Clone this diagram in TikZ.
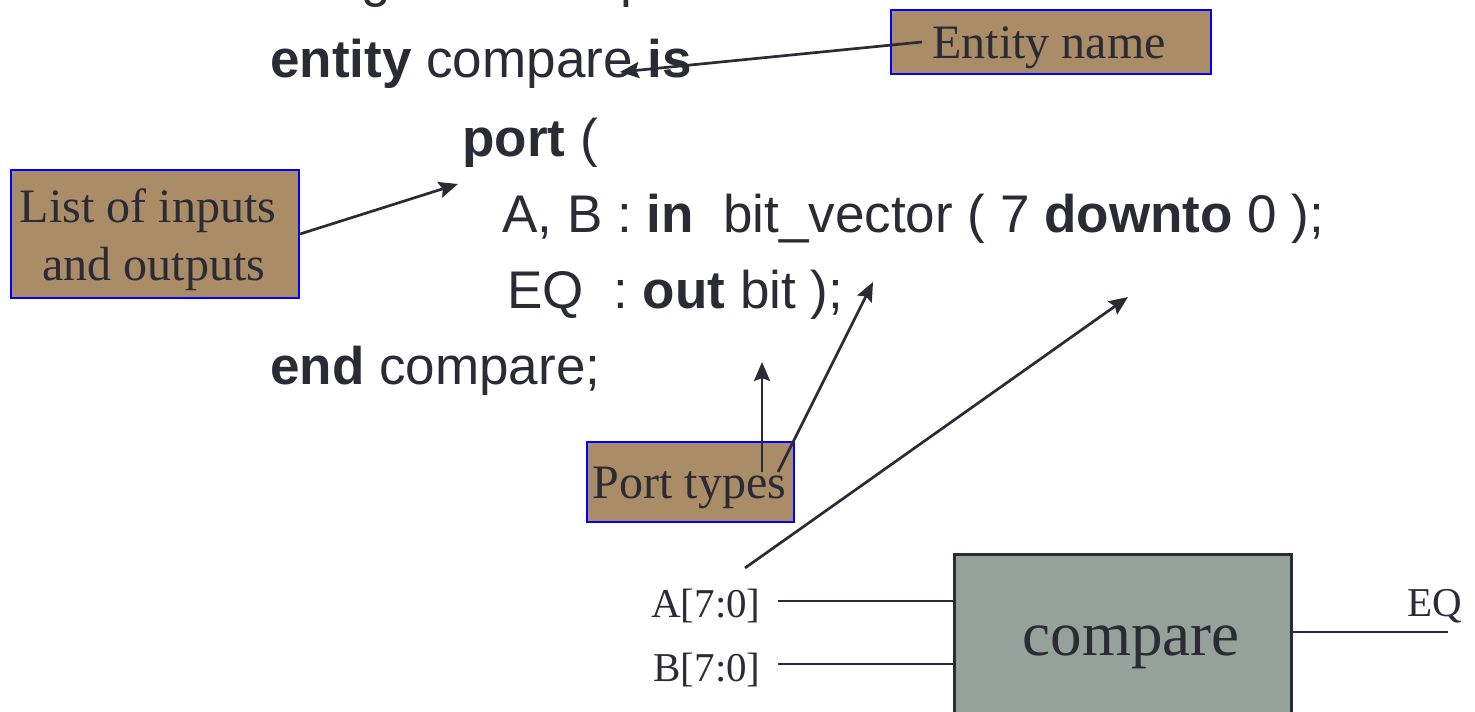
\documentclass[tikz,border=0pt]{standalone}
\usepackage{fontspec}
\setmainfont{Liberation Serif}
\newfontfamily\codefont{Liberation Sans}
\usetikzlibrary{arrows.meta}
\definecolor{ink}{HTML}{2B2B36}
\definecolor{notefill}{HTML}{AA8C66}
\definecolor{noteedge}{HTML}{0000FF}
\definecolor{blockfill}{HTML}{94A299}
\begin{document}
\begin{tikzpicture}[x=0.5pt, y=-0.5pt,
  code/.style={anchor=base west, inner sep=0pt, text=ink, font=\codefont\fontsize{26.5}{32}\selectfont},
  note/.style={draw=noteedge, line width=1pt, fill=notefill, inner sep=0pt, anchor=north west},
  notetext/.style={text=ink, inner sep=0pt, font=\fontsize{24}{29}\selectfont, align=center},
  pointer/.style={draw=ink, line width=1.35pt, -{Stealth[length=9.5pt, width=8pt, inset=1.5pt]}},
  wire/.style={draw=ink, line width=1.35pt},
  pin/.style={text=ink, inner sep=0pt, font=\fontsize{20.5}{24}\selectfont},
  block/.style={draw=ink, line width=1.35pt, fill=blockfill, inner sep=0pt, anchor=north west}]

\useasboundingbox (0,0) rectangle (1475,711);

% VHDL source
\node[code] (hdr) at (270,-3) {-{}- eight bit comparator};
\node[code] (ent) at (270,78) {\textbf{entity} compare \textbf{is}};
\node[code] (prt) at (462,157) {\textbf{port} (};
\node[code] (ab)  at (502,232) {A, B : \textbf{in}\ \ bit\_vector ( 7 \textbf{downto} 0 );};
\node[code] (eq)  at (507,308) {EQ\ \ : \textbf{out} bit );};
\node[code] (fin) at (270,384) {\textbf{end} compare;};

% callout boxes
\node[note, minimum width=160pt, minimum height=32pt] (nameBox) at (890,9) {};
\node[notetext, anchor=base] (nameTxt) at (1049,59) {Entity name};
\node[note, minimum width=144pt, minimum height=64pt] (listBox) at (10,169) {};
\node[notetext, anchor=center] (listTxt) at (154,240) {List of inputs\hspace*{0.25em}\\ and outputs};
\node[note, minimum width=103.5pt, minimum height=40pt] (typeBox) at (586,441) {};
\node[notetext, anchor=base] (typeTxt) at (689.5,498) {Port types};

% block symbol
\node[block, minimum width=168.5pt, minimum height=120pt] (blk) at (953,553) {};
\node[text=ink, inner sep=0pt, anchor=base, font=\fontsize{31.5}{36}\selectfont] (blkTxt) at (1131,655) {compare};
\node[pin, anchor=base east] (pinA) at (761,617) {A[7:0]};
\node[pin, anchor=base east] (pinB) at (761,681) {B[7:0]};
\node[pin, anchor=base west] (pinEQ) at (1407,616) {EQ};

\coordinate (aIn) at (778,601);
\coordinate (bIn) at (778,664);
\coordinate (eqOut) at (1448,632);
\draw[wire] (aIn) -- (aIn -| blk.west);
\draw[wire] (bIn) -- (bIn -| blk.west);
\draw[wire] (eqOut -| blk.east) -- (eqOut);

% pointers
\coordinate (nameTail) at (922,42);
\coordinate (nameTip) at (620,72);
\coordinate (listTip) at (458,184);
\coordinate (typeTailA) at (762,472);
\coordinate (typeTipA) at (762,362);
\coordinate (typeTailB) at (778,472);
\coordinate (typeTipB) at (873,282);
\coordinate (busTail) at (745,568);
\coordinate (busTip) at (1128,297);
\draw[pointer] (nameTail) -- (nameTip);
\draw[pointer] (listBox.east) -- (listTip);
\draw[pointer] (typeTailA) -- (typeTipA);
\draw[pointer] (typeTailB) -- (typeTipB);
\draw[pointer] (busTail) -- (busTip);
\end{tikzpicture}
\end{document}
